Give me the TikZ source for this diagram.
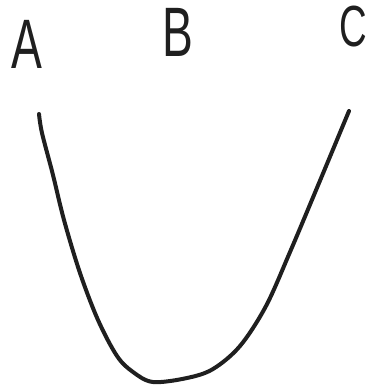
\documentclass[tikz,border=0pt]{standalone}
\usepackage{fontspec}
\setmainfont{Liberation Sans}
\begin{document}
\begin{tikzpicture}[x=1pt,y=-1pt,
  lbl/.style={inner sep=0pt,font=\fontsize{70}{70}\selectfont,xscale=0.66,text=black!88},
  curve/.style={line width=4pt,line cap=round,line join=round,black!88}]
\useasboundingbox (0,0) rectangle (369,387);
\node[lbl] (A) at (27,44) {A};
\node[lbl] (B) at (178,32) {B};
\node[lbl,font=\fontsize{58}{58}\selectfont] (C) at (353,27) {C};
\coordinate (s) at (39,114);
\coordinate (e) at (349,111);
\draw[curve] plot[smooth,tension=0.55] coordinates {(39,114) (42,133) (53,175) (64,220) (80,273) (98,320) (117,356) (133,372) (153,382) (187,378) (213,369) (240,346) (266,306) (290,252) (314,195) (349,111)};
\end{tikzpicture}
\end{document}
